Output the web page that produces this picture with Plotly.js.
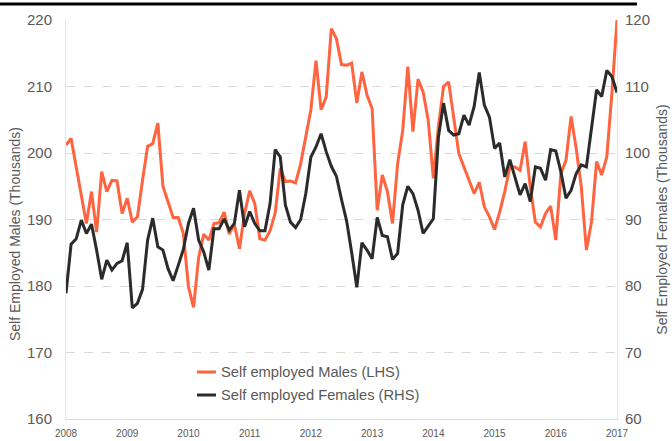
<!DOCTYPE html>
<html>
<head>
<meta charset="utf-8">
<script src="https://cdn.plot.ly/plotly-3.0.1.min.js"></script>
<style>
  html, body { margin: 0; padding: 0; background: #fff; }
  #chart { width: 672px; height: 441px; }
</style>
</head>
<body>
<div id="chart"></div>
<script>
// Monthly observations, Jan 2008 .. Jan 2017
const startYear = 2008;
const yearLabels = ['2008','2009','2010','2011','2012','2013','2014','2015','2016','2017'];

const malesLHS = [
  201.2, 202.2, 197.9, 193.9, 189.4, 194.2, 188.1, 197.2, 194.2, 195.9, 195.8, 190.9,
  193.2, 189.6, 190.4, 195.9, 201.0, 201.4, 204.5, 195.0, 192.5, 190.3, 190.3, 187.9,
  179.9, 176.8, 184.3, 187.8, 186.9, 189.4, 189.5, 191.1, 187.8, 189.3, 185.6, 190.9,
  194.3, 192.4, 187.1, 186.9, 188.3, 191.0, 197.7, 195.7, 195.8, 195.5, 198.4, 202.2,
  206.5, 213.9, 206.5, 208.4, 218.7, 217.2, 213.3, 213.2, 213.5, 207.5, 212.2, 208.7,
  206.7, 191.4, 196.7, 194.2, 189.4, 198.4, 203.4, 213.0, 203.2, 211.1, 209.2, 204.9,
  196.2, 204.0, 210.0, 210.7, 205.5, 199.9, 197.9, 195.9, 193.9, 195.6, 191.9, 190.4,
  188.5, 191.1, 194.2, 197.9, 197.9, 197.4, 201.7, 194.9, 189.6, 188.9, 190.9, 192.0,
  186.9, 196.9, 198.9, 205.5, 200.7, 194.9, 185.4, 189.6, 198.7, 196.7, 199.4, 209.0,
  220.0
];

const femalesRHS = [
  78.9, 86.3, 87.1, 89.9, 87.9, 89.3, 85.4, 81.0, 83.9, 82.4, 83.4, 83.8,
  86.5, 76.7, 77.4, 79.5, 86.9, 90.2, 85.9, 85.4, 82.6, 80.8, 83.1, 85.5,
  89.4, 91.7, 86.9, 85.1, 82.4, 88.6, 88.6, 90.1, 88.4, 89.4, 94.4, 88.9,
  91.2, 89.4, 88.3, 88.3, 92.4, 100.5, 99.4, 92.2, 89.6, 88.8, 90.0, 93.9,
  99.4, 100.9, 102.9, 100.2, 98.0, 96.5, 93.0, 89.8, 85.0, 79.8, 86.5, 85.4,
  84.1, 90.3, 87.6, 87.4, 84.0, 84.9, 92.2, 95.0, 93.9, 91.4, 87.9, 89.1,
  90.1, 102.4, 107.5, 103.4, 102.7, 102.9, 105.7, 104.2, 107.0, 112.1, 107.2, 105.4,
  100.7, 101.5, 96.4, 99.0, 96.4, 93.7, 95.4, 92.7, 97.9, 97.7, 95.9, 100.5,
  100.3, 97.2, 93.2, 94.4, 96.9, 98.2, 97.9, 103.9, 109.5, 108.5, 112.4, 111.5,
  109.1
];

const seriesNames = ['Self employed Males (LHS)', 'Self employed Females (RHS)'];
const seriesColors = ['#FF6440', '#2B2B2B'];
const axisTitles = ['Self Employed Males (Thousands)', 'Self Employed Females (Thousands)'];

// x position of each monthly observation (decimal year)
const months = malesLHS.map((_, i) => startYear + i / 12);
const yearTicks = yearLabels.map(Number);

const gray = '#595959';
const font = 'Liberation Sans, Arial, sans-serif';

// pixel -> paper helpers for the plot box (l=66, w=551, bottom=419, h=399)
const px = v => (v - 66) / 551;
const py = v => (419 - v) / 399;

const traces = [
  {
    x: months, y: malesLHS, name: seriesNames[0], type: 'scatter', mode: 'lines',
    line: { color: seriesColors[0], width: 3 }, yaxis: 'y'
  },
  {
    x: months, y: femalesRHS, name: seriesNames[1], type: 'scatter', mode: 'lines',
    line: { color: seriesColors[1], width: 3 }, yaxis: 'y2'
  }
];

// legend drawn as line samples + text
const legendRowsY = [372, 395];
const legendShapes = legendRowsY.map((yy, i) => ({
  type: 'line', xref: 'paper', yref: 'paper',
  x0: px(197), x1: px(216), y0: py(yy), y1: py(yy),
  line: { color: seriesColors[i], width: 3 }
}));
const legendTexts = legendRowsY.map((yy, i) => ({
  text: seriesNames[i], xref: 'paper', yref: 'paper',
  x: px(219), y: py(yy), xanchor: 'left', yanchor: 'middle', showarrow: false,
  font: { size: 14.7, color: gray, family: font }
}));

const layout = {
  width: 672, height: 441,
  margin: { l: 66, r: 55, t: 20, b: 22, pad: 0 },
  paper_bgcolor: '#fff', plot_bgcolor: '#fff',
  font: { family: font, color: gray, size: 14 },
  showlegend: false,
  xaxis: {
    range: [2008, 2017], tickvals: yearTicks, ticktext: yearLabels,
    showgrid: false, zeroline: false, showline: true, linecolor: '#d9d9d9', linewidth: 1,
    ticks: '', ticklabelstandoff: 5,
    tickfont: { size: 10, color: gray, family: font }, automargin: false
  },
  yaxis: {
    range: [160, 220], dtick: 10, tick0: 160,
    showgrid: true, gridcolor: '#d9d9d9', griddash: 'dash', gridwidth: 1,
    zeroline: false, showline: true, linecolor: '#e6e6e6', linewidth: 1,
    ticks: '', ticklabelstandoff: 10,
    tickfont: { size: 15, color: gray, family: font },
    automargin: false
  },
  yaxis2: {
    range: [60, 120], dtick: 10, tick0: 60, overlaying: 'y', side: 'right',
    showgrid: false, zeroline: false, showline: true, linecolor: '#e6e6e6', linewidth: 1,
    ticks: '', ticklabelstandoff: 4,
    tickfont: { size: 15, color: gray, family: font },
    title: { text: axisTitles[1], font: { size: 14, color: gray, family: font }, standoff: 8 },
    automargin: false
  },
  annotations: [
    {
      text: axisTitles[0], xref: 'paper', yref: 'paper',
      x: px(15), y: py(234), xanchor: 'center', yanchor: 'middle',
      textangle: -90, showarrow: false,
      font: { size: 14, color: gray, family: font }
    }
  ].concat(legendTexts),
  shapes: [
    {
      type: 'line', xref: 'paper', yref: 'paper',
      x0: px(0), x1: px(637), y0: py(4), y1: py(4),
      line: { color: '#000', width: 3 }
    }
  ].concat(legendShapes)
};

Plotly.newPlot('chart', traces, layout, { staticPlot: true, displayModeBar: false });
</script>
</body>
</html>
